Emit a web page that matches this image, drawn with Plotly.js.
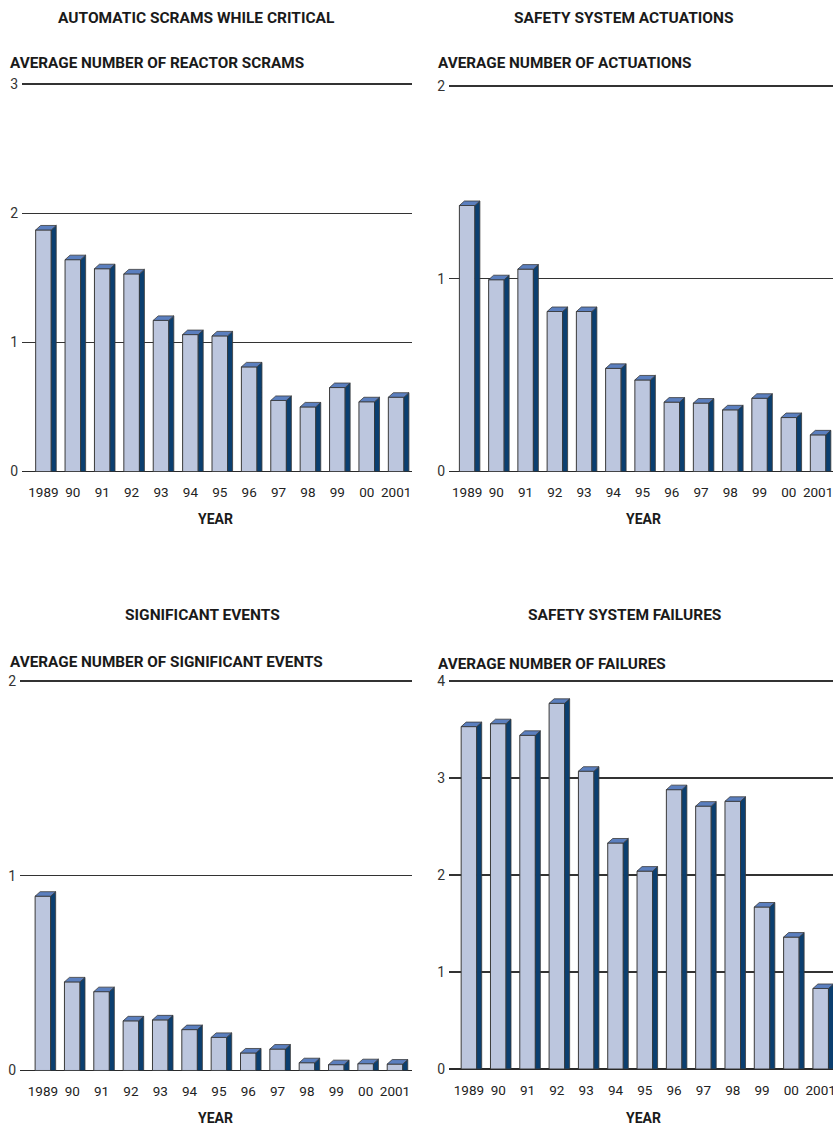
<!DOCTYPE html>
<html>
<head>
<meta charset="utf-8">
<script src="https://cdn.plot.ly/plotly-3.0.1.min.js"></script>
<style>html,body{margin:0;padding:0;background:#fff;}#chart{width:833px;height:1132px;}</style>
</head>
<body>
<div id="chart"></div>
<script>
// ---- data ----
const years = ["1989","90","91","92","93","94","95","96","97","98","99","00","2001"];
const scrams = [1.87, 1.64, 1.57, 1.53, 1.17, 1.06, 1.05, 0.81, 0.55, 0.50, 0.65, 0.54, 0.575];
const actuations = [1.38, 0.995, 1.05, 0.83, 0.83, 0.535, 0.475, 0.36, 0.355, 0.32, 0.38, 0.28, 0.19];
const sigEvents = [0.895, 0.455, 0.405, 0.255, 0.26, 0.21, 0.17, 0.09, 0.11, 0.04, 0.03, 0.035, 0.033];
const failures = [3.53, 3.56, 3.44, 3.77, 3.07, 2.33, 2.04, 2.88, 2.71, 2.76, 1.67, 1.36, 0.83];

const panelTitles = ["AUTOMATIC SCRAMS WHILE CRITICAL", "SAFETY SYSTEM ACTUATIONS", "SIGNIFICANT EVENTS", "SAFETY SYSTEM FAILURES"];
const yTitles = ["AVERAGE NUMBER OF REACTOR SCRAMS", "AVERAGE NUMBER OF ACTUATIONS", "AVERAGE NUMBER OF SIGNIFICANT EVENTS", "AVERAGE NUMBER OF FAILURES"];
const yMax = [3, 2, 2, 4];
const xAxisTitle = "YEAR";

// ---- layout geometry (pixels) ----
const W = 833, H = 1132;
const panels = [
  {vals: scrams,     x0: 22,  x1: 412, yTop: 84,  yBot: 471.5, xr: [-0.73, 12.54], title: [196, 18], ytitle: [8, 63], xt: [215, 519]},
  {vals: actuations, x0: 449, x1: 833, yTop: 86,  yBot: 471.5, xr: [-0.62, 12.51], title: [623, 18], ytitle: [436, 63], xt: [643, 519]},
  {vals: sigEvents,  x0: 20,  x1: 412, yTop: 681, yBot: 1070.5, xr: [-0.78, 12.58], title: [202, 615], ytitle: [8, 662], xt: [215, 1118]},
  {vals: failures,   x0: 449, x1: 833, yTop: 681, yBot: 1069, xr: [-0.68, 12.42], title: [624, 615], ytitle: [436, 664], xt: [643, 1118]}
];

const FRONT = "#bcc6de", TOP = "#5b7fbf", SIDE = "#0b3f70", EDGE = "#3a3a3a";
const titleFont = {family: "Roboto, Liberation Sans, sans-serif", size: 15.3, color: "#1a1a1a", weight: "bold"};
const tickFont = {family: "Roboto, Liberation Sans, sans-serif", size: 13.5, color: "#222"};
const BW = 0.53;
const PAD = 0.012; // fraction of range added above the top tick so its grid line is kept

const traces = [];
const layout = {
  width: W, height: H, margin: {l: 0, r: 0, t: 0, b: 0},
  paper_bgcolor: "#fff", plot_bgcolor: "rgba(0,0,0,0)",
  showlegend: false, annotations: [], bargap: 0
};

panels.forEach((p, i) => {
  const n = i === 0 ? "" : String(i + 1);
  const xa = "x" + n, ya = "y" + n;
  const idx = years.map((_, k) => k);
  const pxPerIdx = (p.x1 - p.x0) / (p.xr[1] - p.xr[0]);
  const pxPerUnit = (p.yBot - p.yTop) / yMax[i];
  const dx = 5 / pxPerIdx, dy = 4.5 / pxPerUnit;
  const topPx = p.yTop - PAD * (p.yBot - p.yTop);

  const sx = [], sy = [], tx = [], ty = [];
  p.vals.forEach((v, k) => {
    const l = k - BW / 2, r = k + BW / 2;
    sx.push(r, r, r + dx, r + dx, r, null);
    sy.push(0, v, v + dy, 0, 0, null);
    tx.push(l, r, r + dx, l + dx, l, null);
    ty.push(v, v, v + dy, v + dy, v, null);
  });
  traces.push({type: "scatter", x: sx, y: sy, xaxis: xa, yaxis: ya, mode: "lines", fill: "toself",
    fillcolor: SIDE, line: {color: EDGE, width: 0.8}, hoverinfo: "skip"});
  traces.push({type: "scatter", x: tx, y: ty, xaxis: xa, yaxis: ya, mode: "lines", fill: "toself",
    fillcolor: TOP, line: {color: EDGE, width: 0.8}, hoverinfo: "skip"});
  traces.push({type: "bar", x: idx, y: p.vals, width: BW, xaxis: xa, yaxis: ya,
    marker: {color: FRONT, line: {color: EDGE, width: 1}}, hoverinfo: "y"});

  layout["xaxis" + n] = {
    domain: [p.x0 / W, p.x1 / W], range: p.xr, type: "linear", anchor: ya,
    tickmode: "array", tickvals: idx, ticktext: years, showgrid: false, zeroline: false,
    showline: false, ticks: "", ticklabelstandoff: 11, ticklabeloverflow: "allow",
    tickfont: tickFont, fixedrange: true
  };
  layout["yaxis" + n] = {
    domain: [1 - p.yBot / H, 1 - topPx / H], range: [0, yMax[i] * (1 + PAD)], anchor: xa,
    tickmode: "linear", tick0: 0, dtick: 1, showgrid: true, gridcolor: "#333", gridwidth: 1.3,
    zeroline: true, zerolinecolor: "#2a2a2a", zerolinewidth: 1.6, showline: false, ticks: "",
    ticklabelstandoff: 3, tickfont: Object.assign({}, tickFont, {size: 14, color: "#333"}), fixedrange: true
  };

  layout.annotations.push({xref: "paper", yref: "paper", x: p.title[0] / W, y: 1 - p.title[1] / H,
    xanchor: "center", yanchor: "middle", text: panelTitles[i], showarrow: false, font: Object.assign({}, titleFont, {size: 15.5})});
  layout.annotations.push({xref: "paper", yref: "paper", x: p.ytitle[0] / W, y: 1 - p.ytitle[1] / H,
    xanchor: "left", yanchor: "middle", text: yTitles[i], showarrow: false, font: titleFont});
  layout.annotations.push({xref: "paper", yref: "paper", x: p.xt[0] / W, y: 1 - p.xt[1] / H,
    xanchor: "center", yanchor: "middle", text: xAxisTitle, showarrow: false, font: Object.assign({}, titleFont, {size: 14})});
});

Plotly.newPlot("chart", traces, layout, {displayModeBar: false, staticPlot: true});
</script>
</body>
</html>
